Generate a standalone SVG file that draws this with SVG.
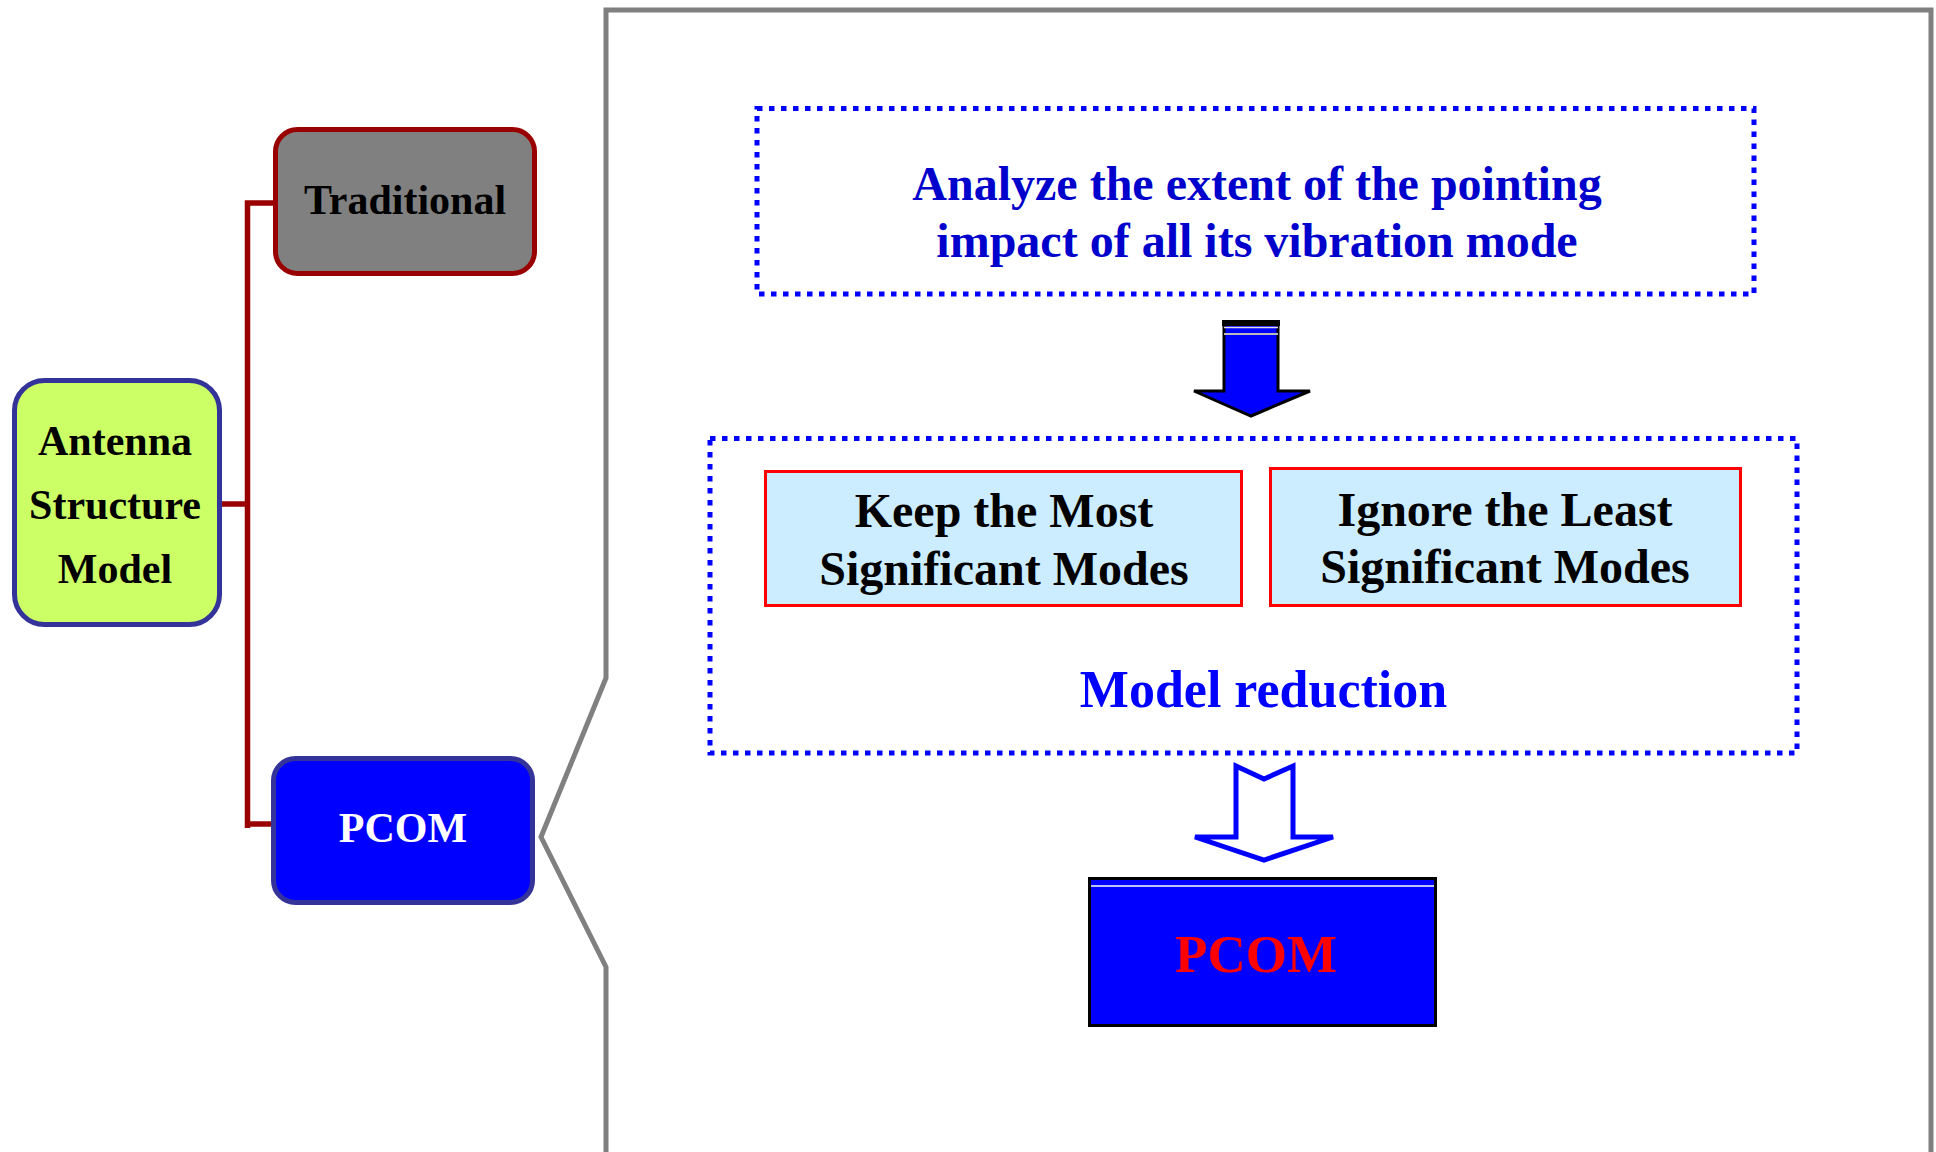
<svg xmlns="http://www.w3.org/2000/svg" width="1936" height="1152" viewBox="0 0 1936 1152">
  <style>
    .t { font-family: "Liberation Serif", "Times New Roman", serif; font-weight: bold; text-anchor: middle; }
    .node { stroke-width: 5; }
    .conn { fill: none; stroke: #990000; stroke-width: 5.5; }
    .dot { fill: none; stroke: #0000FF; stroke-width: 5; stroke-dasharray: 5.5 6.5; }
    .mode { fill: #CCECFF; stroke: #FF0000; stroke-width: 3; }
  </style>
  <rect width="1936" height="1152" fill="#FFFFFF"/>

  <g id="frame">
    <polyline points="606,1152 606,967 541,837 606,678 606,10 1931,10 1931,1152" fill="none" stroke="#808080" stroke-width="5" stroke-linejoin="miter"/>
  </g>

  <g id="connectors">
    <path class="conn" d="M273 203 H247.5 V828"/>
    <path class="conn" d="M222 504 H247.5"/>
    <path class="conn" d="M247.5 824 H272"/>
  </g>

  <g id="node-traditional">
    <rect class="node" x="275.5" y="129.5" width="259" height="144" rx="22" fill="#808080" stroke="#990000"/>
    <text class="t" x="405" y="214" font-size="42" fill="#000000">Traditional</text>
  </g>

  <g id="node-antenna">
    <rect class="node" x="14.5" y="380.5" width="205" height="244" rx="30" fill="#CCFF66" stroke="#333399"/>
    <text class="t" x="115" y="455" font-size="42" fill="#000000">Antenna</text>
    <text class="t" x="115" y="519" font-size="42" fill="#000000">Structure</text>
    <text class="t" x="115" y="583" font-size="42" fill="#000000">Model</text>
  </g>

  <g id="node-pcom">
    <rect class="node" x="273.5" y="758.5" width="259" height="144" rx="22" fill="#0000FF" stroke="#333399"/>
    <text class="t" x="403" y="842" font-size="42" fill="#FFFFFF">PCOM</text>
  </g>

  <g id="node-analyze">
    <rect class="dot" x="757" y="108.5" width="997" height="185.5"/>
    <text class="t" x="1257" y="200" font-size="48" fill="#0000CC">Analyze the extent of the pointing</text>
    <text class="t" x="1257" y="257" font-size="48" fill="#0000CC">impact of all its vibration mode</text>
  </g>

  <g id="arrow-filled">
    <polygon points="1224,322 1278,322 1278,391 1310,391 1251,416 1194,391 1224,391" fill="#0000FF" stroke="#000000" stroke-width="3" stroke-linejoin="miter"/>
    <rect x="1222" y="320" width="58" height="6" fill="#000000"/>
    <line x1="1224" y1="327.5" x2="1278" y2="327.5" stroke="#DDDDDD" stroke-width="1.5"/>
    <line x1="1224" y1="334" x2="1278" y2="334" stroke="#BBBBBB" stroke-width="2"/>
  </g>

  <g id="node-model-reduction">
    <rect class="dot" x="710" y="438.5" width="1087" height="314.5"/>
    <text class="t" x="1263.5" y="707" font-size="52" fill="#0000FF">Model reduction</text>
  </g>

  <g id="node-keep">
    <rect class="mode" x="765.5" y="471.5" width="476" height="134"/>
    <text class="t" x="1004" y="527" font-size="48" fill="#000000">Keep the Most</text>
    <text class="t" x="1004" y="585" font-size="48" fill="#000000">Significant Modes</text>
  </g>

  <g id="node-ignore">
    <rect class="mode" x="1270.5" y="468.5" width="470" height="137"/>
    <text class="t" x="1505" y="526" font-size="48" fill="#000000">Ignore the Least</text>
    <text class="t" x="1505" y="583" font-size="48" fill="#000000">Significant Modes</text>
  </g>

  <g id="arrow-hollow">
    <polygon points="1236,766 1264,779 1293,766 1293,837 1333,837 1264,860 1195,837 1236,837" fill="#FFFFFF" stroke="#0000FF" stroke-width="5" stroke-linejoin="miter"/>
  </g>

  <g id="node-pcom-result">
    <rect x="1089.5" y="878.5" width="346" height="147" fill="#0000FF" stroke="#000000" stroke-width="3"/>
    <line x1="1091" y1="886" x2="1434" y2="886" stroke="#FFFFFF" stroke-width="1.5"/>
    <text class="t" x="1256" y="972" font-size="53" fill="#FF0000">PCOM</text>
  </g>
</svg>
